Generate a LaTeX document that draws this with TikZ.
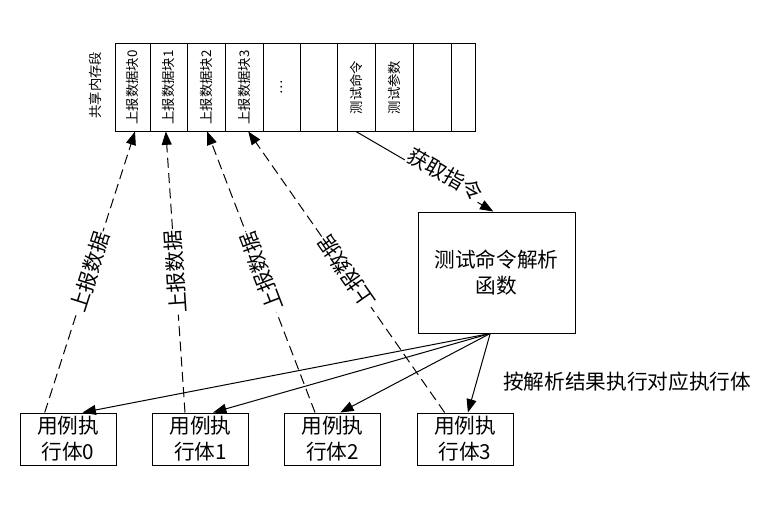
\documentclass[tikz,border=0pt]{standalone}
\usepackage{fontspec}
\setmainfont{Noto Sans CJK SC}
\usetikzlibrary{arrows.meta,calc}
\begin{document}
\begin{tikzpicture}[x=0.75pt,y=-0.75pt,line width=0.75pt,
  cell/.style={draw,minimum height=65.25pt,inner sep=0pt,font=\fontsize{10}{12}\selectfont},
  exec/.style={draw,minimum width=72pt,minimum height=39pt,inner sep=0pt,align=center,font=\fontsize{15.5}{19.5}\selectfont},
  parse/.style={draw,minimum width=117.75pt,minimum height=90.75pt,inner sep=0pt,align=center,font=\fontsize{15.5}{19.5}\selectfont},
  tip/.style={-{Triangle[length=10pt,width=7.5pt]}},
  report/.style={tip,dash pattern=on 7.5pt off 4pt},
  rlabel/.style={sloped,allow upside down,fill=white,inner sep=1pt,font=\fontsize{15.5}{18}\selectfont},
  plain/.style={font=\fontsize{15.5}{18}\selectfont}]
\useasboundingbox (0,0) rectangle (780,510);
% shared memory strip
\node[plain,font=\fontsize{10}{12}\selectfont] (shm) at (95,85) {\rotatebox{90}{共享内存段}};
\node[cell,minimum width=26.25pt] (c0) at (132.5,87.5) {\rotatebox{90}{上报数据块0}};
\node[cell,minimum width=27.75pt] (c1) at (168.5,87.5) {\rotatebox{90}{上报数据块1}};
\node[cell,minimum width=28.5pt] (c2) at (206,87.5) {\rotatebox{90}{上报数据块2}};
\node[cell,minimum width=28.5pt] (c3) at (244,87.5) {\rotatebox{90}{上报数据块3}};
\node[cell,minimum width=27.75pt] (c4) at (281.5,87.5) {\rotatebox{90}{…}};
\node[cell,minimum width=27.75pt] (c5) at (318.5,87.5) {};
\node[cell,minimum width=28.5pt] (c6) at (356,87.5) {\rotatebox{90}{测试命令}};
\node[cell,minimum width=28.5pt] (c7) at (394,87.5) {\rotatebox{90}{测试参数}};
\node[cell,minimum width=28.5pt] (c8) at (432,87.5) {};
\node[cell,minimum width=18pt] (c9) at (463,87.5) {};
% parser
\node[parse] (p) at (496.5,272.5) {测试命令解析\\函数};
% executors
\node[exec] (b0) at (68,439) {用例执\\行体0};
\node[exec] (b1) at (200.5,439) {用例执\\行体1};
\node[exec] (b2) at (332.5,439) {用例执\\行体2};
\node[exec] (b3) at (465,439) {用例执\\行体3};
% fetch command
\draw[tip] (c6.south) -- node[pos=0.62,sloped,above=-2pt,fill=white,inner sep=0.5pt,font=\fontsize{15.5}{18}\selectfont] {获取指令} ($(p.north west)!0.48!(p.north east)$);
% dispatch
\coordinate (po) at ($(p.south west)!0.46!(p.south east)$);
\draw[tip] (po) -- ($(b0.north west)!0.65!(b0.north east)$);
\draw[tip] (po) -- ($(b1.north west)!0.63!(b1.north east)$);
\draw[tip] (po) -- ($(b2.north west)!0.58!(b2.north east)$);
\draw[tip] (po) -- ($(b3.north west)!0.53!(b3.north east)$);
\node[plain] (dl) at (627,382) {按解析结果执行对应执行体};
% report data
\draw[report] ($(b0.north west)!0.26!(b0.north east)$) -- node[rlabel] {上报数据} ($(c0.south west)!0.57!(c0.south east)$);
\draw[report] ($(b1.north west)!0.34!(b1.north east)$) -- node[rlabel] {上报数据} ($(c1.south west)!0.43!(c1.south east)$);
\draw[report] ($(b2.north west)!0.32!(b2.north east)$) -- node[rlabel] {上报数据} ($(c2.south west)!0.53!(c2.south east)$);
\draw[report] ($(b3.north west)!0.29!(b3.north east)$) -- node[rlabel] {上报数据} ($(c3.south west)!0.61!(c3.south east)$);
\end{tikzpicture}
\end{document}
